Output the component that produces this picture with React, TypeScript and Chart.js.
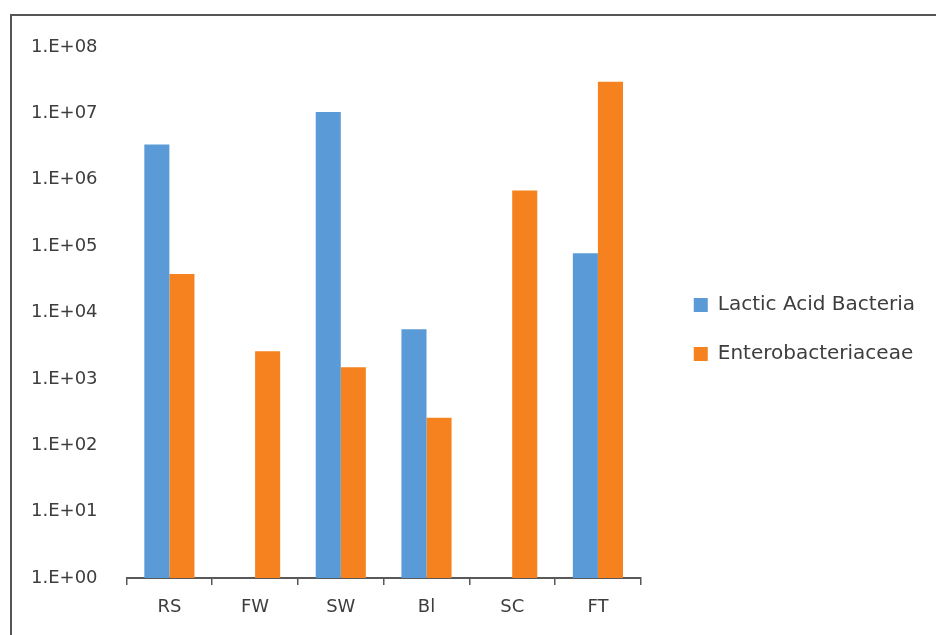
import React, { useEffect, useRef } from 'react';
import { Chart, registerables } from 'chart.js';

Chart.register(...registerables);

const categories = ['RS', 'FW', 'SW', 'Bl', 'SC', 'FT'];
const lacticAcidBacteria: (number | null)[] = [3.4e6, null, 1.05e7, 5.6e3, null, 7.8e4];
const enterobacteriaceae: (number | null)[] = [3.8e4, 2.6e3, 1.5e3, 2.6e2, 6.9e5, 3.0e7];
const yTickValues = [1, 1e1, 1e2, 1e3, 1e4, 1e5, 1e6, 1e7, 1e8];
const yTickLabels = ['1.E+00', '1.E+01', '1.E+02', '1.E+03', '1.E+04', '1.E+05', '1.E+06', '1.E+07', '1.E+08'];
const seriesNames = ['Lactic Acid Bacteria', 'Enterobacteriaceae'];

const FONT = "'DejaVu Sans', Verdana, sans-serif";
const TEXT = '#3d3d3d';
const AXIS = '#595959';

export default function App() {
  const ref = useRef<HTMLCanvasElement | null>(null);

  useEffect(() => {
    if (!ref.current) return;
    const chart = new Chart(ref.current, {
      type: 'bar',
      data: {
        labels: categories,
        datasets: [
          {
            label: seriesNames[0],
            data: lacticAcidBacteria,
            backgroundColor: '#5A9AD6',
            categoryPercentage: 0.585,
            barPercentage: 1,
          },
          {
            label: seriesNames[1],
            data: enterobacteriaceae,
            backgroundColor: '#F5821E',
            categoryPercentage: 0.585,
            barPercentage: 1,
          },
        ],
      },
      options: {
        animation: false,
        responsive: false,
        maintainAspectRatio: false,
        layout: { padding: { left: 2, top: 31, right: 11, bottom: 7 } },
        plugins: {
          tooltip: { enabled: false },
          legend: {
            position: 'right',
            maxWidth: 320,
            labels: {
              boxWidth: 14,
              boxHeight: 14,
              padding: 29,
              color: TEXT,
              font: { family: FONT, size: 20 },
            },
          },
        },
        scales: {
          x: {
            grid: {
              display: true,
              drawOnChartArea: false,
              drawTicks: true,
              tickLength: 7,
              color: AXIS,
              lineWidth: 1.5,
              offset: true,
            },
            border: { display: true, color: AXIS, width: 2 },
            ticks: {
              color: TEXT,
              padding: 12,
              font: { family: FONT, size: 18 },
              maxRotation: 0,
            },
            afterFit: (scale: any) => {
              scale.height = 50;
            },
          },
          y: {
            type: 'logarithmic',
            min: 1,
            max: 1e8,
            grid: { display: false, drawTicks: false },
            border: { display: false },
            afterBuildTicks: (scale: any) => {
              scale.ticks = yTickValues.map((v) => ({ value: v }));
            },
            ticks: {
              color: TEXT,
              padding: 29,
              font: { family: FONT, size: 18 },
              callback: (_v: any, i: number) => yTickLabels[i],
            },
          },
          gap: {
            position: 'right',
            type: 'linear',
            display: true,
            grid: { display: false, drawTicks: false },
            border: { display: false },
            ticks: { display: false },
            afterFit: (scale: any) => {
              scale.width = 24;
            },
          },
          gapTop: {
            position: 'top',
            type: 'linear',
            display: true,
            grid: { display: false, drawTicks: false },
            border: { display: false },
            ticks: { display: false },
            afterFit: (scale: any) => {
              scale.height = 16;
            },
          },
        },
      } as any,
    });
    return () => chart.destroy();
  }, []);

  return (
    <div
      style={{
        position: 'fixed',
        left: 0,
        top: 0,
        width: 936,
        height: 635,
        overflow: 'hidden',
        background: '#fff',
      }}
    >
      <canvas ref={ref} width={936} height={635} style={{ position: 'absolute', left: 0, top: 0 }} />
      <div
        style={{
          position: 'absolute',
          left: 10,
          top: 14,
          width: 1000,
          height: 700,
          border: '2px solid #555',
          pointerEvents: 'none',
        }}
      />
    </div>
  );
}
